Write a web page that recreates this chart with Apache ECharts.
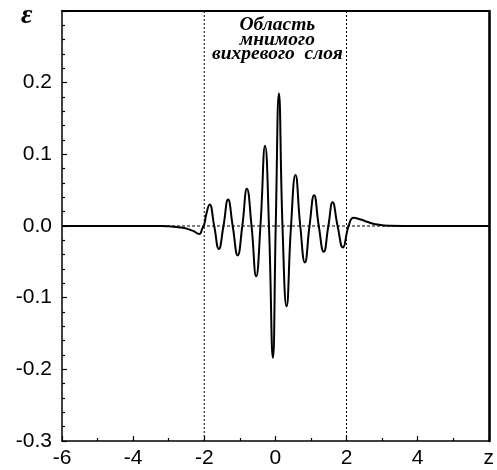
<!DOCTYPE html>
<html>
<head>
<meta charset="utf-8">
<script src="https://cdn.jsdelivr.net/npm/echarts@6/dist/echarts.min.js"></script>
<style>html,body{margin:0;padding:0;background:#fff;}#c{width:497px;height:470px;}</style>
</head>
<body>
<div id="c"></div>
<script>
// z coordinates and epsilon values
var zValues = [-6, -4, -3.2, -3.0, -2.6, -2.33, -2.14, -2.05, -2.0, -1.94, -1.85, -1.72, -1.59, -1.46, -1.33, -1.20, -1.06, -0.93, -0.80, -0.67, -0.54, -0.42, -0.29, -0.18, -0.07, 0.01, 0.10, 0.20, 0.315, 0.44, 0.565, 0.70, 0.83, 0.96, 1.09, 1.22, 1.36, 1.49, 1.61, 1.75, 1.90, 2.06, 2.20, 2.40, 2.60, 2.87, 3.2, 4, 6];
var epsValues = [0, 0, 0, -0.0005, -0.0025, -0.0065, -0.011, -0.003, 0.002, 0.017, 0.030, 0, -0.032, 0, 0.037, 0, -0.041, 0, 0.052, 0, -0.070, 0, 0.112, 0, -0.184, 0, 0.185, 0, -0.112, 0, 0.071, 0, -0.051, 0, 0.043, 0, -0.036, 0, 0.033, 0, -0.030, 0, 0.0115, 0.009, 0.0055, 0.002, 0.0003, 0, 0];
var xTicks = [-6, -4, -2, 0, 2, 4];
var xEndLabel = 'z';
var yTicks = [-0.3, -0.2, -0.1, 0.0, 0.1, 0.2];
var yLabel = 'ε';
var regionBounds = [-2, 2];
var annotationLines = ['Область', 'мнимого', 'вихревого  слоя'];

var curve = zValues.map(function (z, i) { return [z, epsValues[i]]; });

var chart = echarts.init(document.getElementById('c'), null, { renderer: 'canvas' });
var labelFont = { color: '#000', fontFamily: 'Liberation Sans, Arial, sans-serif', fontSize: 21 };

var option = {
  animation: false,
  backgroundColor: '#fff',
  grid: { left: 62, right: 5, top: 11, bottom: 29, containLabel: false },
  xAxis: [{
    type: 'value', min: -6, max: 6, interval: 2,
    axisLine: { show: true, onZero: false, lineStyle: { color: '#000', width: 1.5 } },
    axisTick: { show: true, inside: true, length: 5, lineStyle: { color: '#000', width: 1.2 } },
    minorTick: { show: true, splitNumber: 2, length: 3, lineStyle: { color: '#000', width: 1.2 } },
    splitLine: { show: false },
    axisLabel: Object.assign({ margin: 7, showMaxLabel: true, showMinLabel: true,
      formatter: function (v) { return v === 6 ? xEndLabel : (xTicks.indexOf(v) >= 0 ? String(v) : ''); } }, labelFont)
  }, {
    type: 'value', min: -6, max: 6, position: 'top', gridIndex: 0,
    axisLine: { show: true, onZero: false, lineStyle: { color: '#000', width: 2 } },
    axisTick: { show: false }, axisLabel: { show: false }, splitLine: { show: false }
  }],
  yAxis: [{
    type: 'value', min: -0.3, max: 0.3, interval: 0.1,
    axisLine: { show: true, onZero: false, lineStyle: { color: '#000', width: 1.5 } },
    axisTick: { show: true, inside: true, length: 5, lineStyle: { color: '#000', width: 1.2 } },
    minorTick: { show: true, splitNumber: 5, length: 3, lineStyle: { color: '#000', width: 1.2 } },
    splitLine: { show: false },
    axisLabel: Object.assign({ margin: 10, showMaxLabel: false,
      formatter: function (v) {
        var r = Math.round(v * 10) / 10;
        for (var i = 0; i < yTicks.length; i++) { if (Math.abs(yTicks[i] - r) < 1e-9) return r.toFixed(1); }
        return '';
      } }, labelFont)
  }, {
    type: 'value', min: -0.3, max: 0.3, position: 'right',
    axisLine: { show: true, onZero: false, lineStyle: { color: '#000', width: 2.6 } },
    axisTick: { show: false }, axisLabel: { show: false }, splitLine: { show: false }
  }],
  series: [{
    type: 'line', xAxisIndex: 0, yAxisIndex: 0,
    data: [[-6, 0], [6, 0]], symbol: 'none', silent: true,
    lineStyle: { color: '#000', width: 1, type: [3, 2] }, z: 1
  }, {
    type: 'line', xAxisIndex: 0, yAxisIndex: 0,
    data: [[regionBounds[0], -0.3], [regionBounds[0], 0.3]], symbol: 'none', silent: true,
    lineStyle: { color: '#000', width: 1, type: [2, 2] }, z: 1
  }, {
    type: 'line', xAxisIndex: 0, yAxisIndex: 0,
    data: [[regionBounds[1], -0.3], [regionBounds[1], 0.3]], symbol: 'none', silent: true,
    lineStyle: { color: '#000', width: 1, type: [2, 2] }, z: 1
  }, {
    type: 'line', xAxisIndex: 0, yAxisIndex: 0,
    data: curve, symbol: 'none', smooth: 0.5,
    lineStyle: { color: '#000', width: 2 }, z: 3
  }]
};
chart.setOption(option);

// annotation centred above z = 0
var cx = chart.convertToPixel({ xAxisIndex: 0, yAxisIndex: 0 }, [0, 0])[0];
chart.setOption({
  graphic: [{
    type: 'text', left: 21, top: 2,
    style: { text: yLabel, fill: '#000', font: 'italic bold 28px "Liberation Serif", serif' }
  }, {
    type: 'text', x: cx + 2, y: 18,
    style: { text: annotationLines.join('\n'), fill: '#000', align: 'center', verticalAlign: 'top',
      font: 'italic bold 19.5px "Liberation Serif", serif', lineHeight: 14.5 }
  }]
});
</script>
</body>
</html>
